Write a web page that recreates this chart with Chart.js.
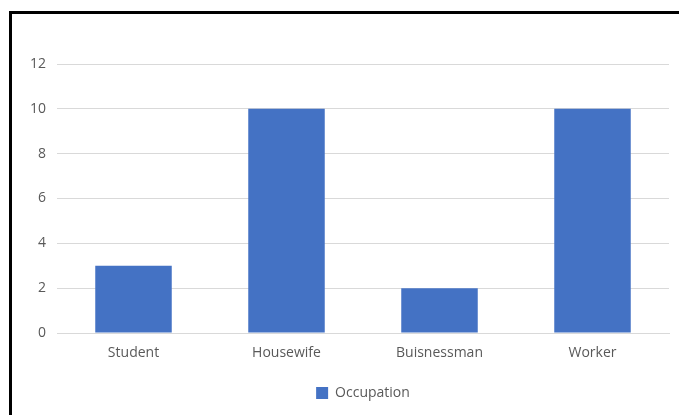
<!DOCTYPE html>
<html>
<head>
<meta charset="utf-8">
<script src="https://cdn.jsdelivr.net/npm/chart.js@4"></script>
<style>
    html, body { margin: 0; padding: 0; background: #fff; }
    #frame {
        position: absolute;
        left: 9px;
        top: 11px;
        width: 700px;
        height: 420px;
        border-left: 3px solid #000;
        border-top: 3px solid #000;
    }
    #wrap { position: absolute; left: 0; top: 0; width: 679px; height: 415px; }
</style>
</head>
<body>
<div id="frame"></div>
<div id="wrap"><canvas id="occupation-chart"></canvas></div>
<script>
const categories = ['Student', 'Housewife', 'Buisnessman', 'Worker']
const occupationValues = [3, 10, 2, 10]
const yTicks = [0, 2, 4, 6, 8, 10, 12]

const ctx = document.getElementById('occupation-chart')
const textColor = '#595959'
const fontFamily = '"Open Sans", "Noto Sans", sans-serif'

let occupationChart = new Chart(ctx, {
    type: 'bar',
    data: {
        labels: categories,
        datasets: [{
            label: 'Occupation',
            data: occupationValues,
            backgroundColor: '#4472C4',
            borderWidth: 0,
            barPercentage: 0.5,
            categoryPercentage: 1
        }]
    },
    options: {
        responsive: true,
        maintainAspectRatio: false,
        animation: false,
        layout: { padding: { top: 64, right: 10, left: 0, bottom: 5 } },
        scales: {
            y: {
                min: 0,
                max: 12,
                afterBuildTicks: (scale) => {
                    scale.ticks = yTicks.map(v => ({ value: v }))
                },
                afterFit: (scale) => { scale.width = 57 },
                border: { display: false },
                grid: { color: '#d9d9d9', lineWidth: 1, drawTicks: false },
                ticks: { color: textColor, padding: 11, font: { family: fontFamily, size: 14 } }
            },
            x: {
                afterFit: (scale) => { scale.height = 43 },
                border: { color: '#d9d9d9' },
                grid: { display: false },
                ticks: { color: textColor, padding: 4, font: { family: fontFamily, size: 14 } }
            }
        },
        plugins: {
            legend: {
                position: 'bottom',
                fullSize: false, // centre the legend under the plot area only
                labels: {
                    color: textColor,
                    boxWidth: 12,
                    boxHeight: 12,
                    padding: 10,
                    font: { family: fontFamily, size: 14 }
                }
            },
            tooltip: { enabled: false }
        }
    }
})
</script>
</body>
</html>
